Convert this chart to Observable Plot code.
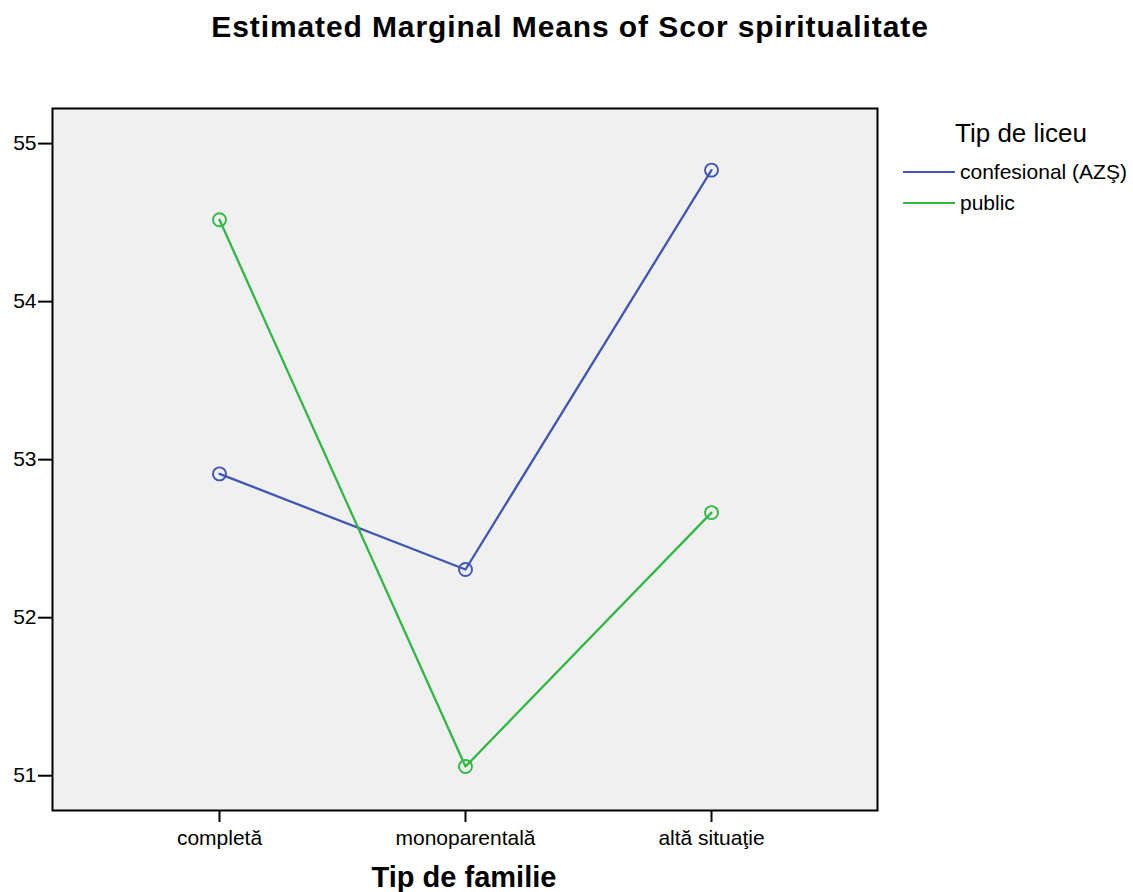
<!DOCTYPE html>
<html>
<head>
<meta charset="utf-8">
<script src="https://cdn.jsdelivr.net/npm/d3@7"></script>
<script src="https://cdn.jsdelivr.net/npm/@observablehq/plot@0.6"></script>
<style>
  body { margin: 0; background: #fff; font-family: "Liberation Sans", Arial, sans-serif; }
  #wrap { position: relative; width: 1133px; height: 892px; overflow: hidden; }
  #title { position: absolute; left: 0; top: 9px; width: 1140px; text-align: center; font-weight: bold; font-size: 30px; line-height: 36px; letter-spacing: 0.9px; }
  #chart { position: absolute; left: 0; top: 60px; }
  #xlabel { position: absolute; left: 264px; width: 400px; top: 860px; text-align: center; font-weight: bold; font-size: 29px; line-height: 34px; }
  #legend { position: absolute; left: 903px; top: 118px; font-size: 21px; }
  #legend .lt { font-size: 26px; line-height: 30px; height: 30px; margin-left: 52px; margin-bottom: 8px; }
  #legend .item { display: flex; align-items: center; height: 31px; }
  #legend .sw { width: 52px; height: 2px; margin-right: 5px; }
</style>
</head>
<body>
<div id="wrap">
  <div id="title">Estimated Marginal Means of Scor spiritualitate</div>
  <div id="chart"></div>
  <div id="xlabel">Tip de familie</div>
  <div id="legend"></div>
</div>
<script>
const categories = ["completă", "monoparentală", "altă situaţie"];
const seriesNames = ["confesional (AZŞ)", "public"];
const confesionalValues = [52.91, 52.305, 54.832];
const publicValues = [54.518, 51.058, 52.665];
const yTicks = [51, 52, 53, 54, 55];
const colors = ["#3f57b3", "#2fb843"];

const data = [];
categories.forEach((c, i) => {
  data.push({cat: c, series: seriesNames[0], value: confesionalValues[i]});
  data.push({cat: c, series: seriesNames[1], value: publicValues[i]});
});

const plot = Plot.plot({
  width: 1133,
  height: 832,
  marginLeft: 52,
  marginRight: 256,
  marginTop: 48,
  marginBottom: 82,
  style: {fontFamily: "'Liberation Sans', Arial, sans-serif", fontSize: "21px", color: "black", background: "transparent"},
  x: {type: "point", domain: categories, padding: 0.673},
  y: {domain: [50.78, 55.222]},
  color: {domain: seriesNames, range: colors},
  marks: [
    Plot.frame({fill: "#f0f0f0", stroke: null}),
    Plot.line(data, {x: "cat", y: "value", z: "series", stroke: "series", strokeWidth: 2.3}),
    Plot.dot(data, {x: "cat", y: "value", stroke: "series", r: 6.5, strokeWidth: 1.9, fill: "none"}),
    Plot.frame({stroke: "black", strokeWidth: 2}),
    Plot.axisY({ticks: yTicks, tickFormat: d => String(d), tickSize: 14, tickPadding: 2, strokeWidth: 2, label: null, fontSize: 21}),
    Plot.axisX({tickSize: 12, tickPadding: 8, strokeWidth: 2, fontSize: 21, label: null})
  ]
});
document.getElementById("chart").appendChild(plot);

const legend = document.getElementById("legend");
const lt = document.createElement("div");
lt.className = "lt";
lt.textContent = "Tip de liceu";
legend.appendChild(lt);
seriesNames.forEach((s, i) => {
  const item = document.createElement("div");
  item.className = "item";
  const sw = document.createElement("div");
  sw.className = "sw";
  sw.style.background = colors[i];
  const t = document.createElement("span");
  t.textContent = s;
  item.appendChild(sw);
  item.appendChild(t);
  legend.appendChild(item);
});
</script>
</body>
</html>
